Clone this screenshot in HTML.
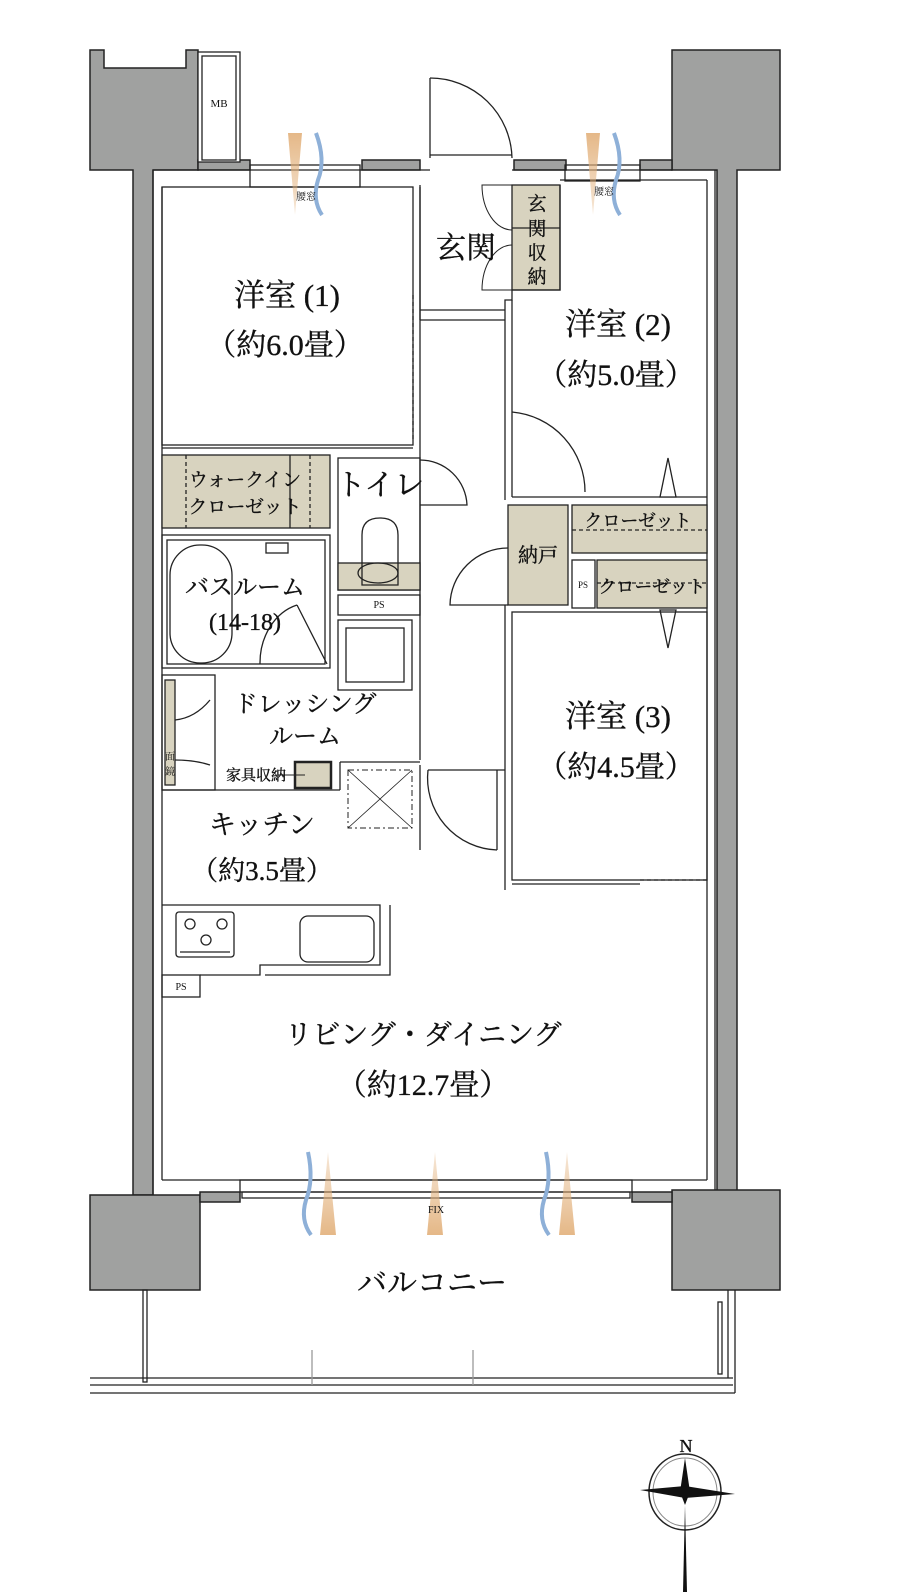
<!DOCTYPE html>
<html><head><meta charset="utf-8"><style>
html,body{margin:0;padding:0;background:#fff;}
svg{display:block;}
text{font-family:"Liberation Serif","Noto Serif CJK SC","Noto Serif CJK JP",serif;fill:#111;stroke:#111;stroke-width:0.35;}
</style></head><body>
<svg width="900" height="1596" viewBox="0 0 900 1596" xmlns="http://www.w3.org/2000/svg">
<defs>
<linearGradient id="o" x1="0" y1="0" x2="0" y2="1"><stop offset="0" stop-color="#e2b07a" stop-opacity=".9"/><stop offset="1" stop-color="#e2b07a" stop-opacity=".3"/></linearGradient>
<linearGradient id="ou" x1="0" y1="1" x2="0" y2="0"><stop offset="0" stop-color="#e2b07a" stop-opacity=".9"/><stop offset="1" stop-color="#e2b07a" stop-opacity=".3"/></linearGradient>
</defs>
<g stroke="#222" stroke-width="1.5">
<polygon fill="#a0a1a0" points="90,50 104,50 104,68 186,68 186,50 198,50 198,170 153,170 153,1195 133,1195 133,170 90,170"/>
<polygon fill="#a0a1a0" points="672,50 780,50 780,170 737,170 737,1195 717,1195 717,170 672,170"/>
<rect fill="#a0a1a0" x="90" y="1195" width="110" height="95"/>
<rect fill="#a0a1a0" x="672" y="1190" width="108" height="100"/>
<rect fill="#a0a1a0" x="198" y="160" width="52" height="10"/>
<rect fill="#a0a1a0" x="362" y="160" width="58" height="10"/>
<rect fill="#a0a1a0" x="514" y="160" width="52" height="10"/>
<rect fill="#a0a1a0" x="640" y="160" width="32" height="10"/>
<rect fill="#a0a1a0" x="200" y="1192" width="40" height="10"/>
<rect fill="#a0a1a0" x="632" y="1192" width="40" height="10"/>
</g>
<g fill="none" stroke="#222" stroke-width="1.3">
<rect x="198" y="52" width="42" height="110" fill="#fff"/>
<rect x="202" y="56" width="34" height="104"/>
<polyline points="153,170 430,170"/>
<polyline points="512,170 672,170"/>
<line x1="153" y1="170" x2="153" y2="1195"/>
<line x1="162" y1="187" x2="162" y2="1180"/>
<line x1="715" y1="170" x2="715" y2="1190"/>
<line x1="707" y1="180" x2="707" y2="1180"/>
<line x1="162" y1="1180" x2="707" y2="1180"/>
<rect x="250" y="165" width="110" height="22"/>
<rect x="565" y="165" width="75" height="16"/>
<rect x="162" y="187" width="251" height="258"/>
<line x1="420" y1="187" x2="420" y2="760"/>
<line x1="413" y1="295" x2="413" y2="440" stroke-dasharray="4,3"/>
<line x1="430" y1="78" x2="430" y2="158"/>
<path d="M430,78 A82,82 0 0 1 512,158"/>
<line x1="430" y1="155" x2="512" y2="155"/>
<line x1="420" y1="185" x2="420" y2="320"/>
<rect x="512" y="185" width="48" height="105" fill="#d8d3bf"/>
<line x1="512" y1="228" x2="560" y2="228"/>
<path d="M512,185 L482,185 A30,45 0 0 0 512,230 M512,290 L482,290 A30,45 0 0 1 512,245" stroke-width="1"/>
<polyline points="560,185 560,290 512,290 512,300 505,300 505,500"/>
<line x1="420" y1="320" x2="505" y2="320"/>
<line x1="420" y1="310" x2="505" y2="310"/>
<polyline points="560,180 707,180"/>
<line x1="512" y1="300" x2="512" y2="497"/>
<line x1="512" y1="497" x2="707" y2="497"/>
<path d="M512,412 A80,80 0 0 1 585,492"/>
<polygon points="668,458 660,497 676,497" fill="#fff"/>
<rect x="162" y="455" width="168" height="73" fill="#d8d3bf"/>
<line x1="186" y1="455" x2="186" y2="528" stroke-dasharray="4,3"/>
<line x1="310" y1="455" x2="310" y2="528" stroke-dasharray="4,3"/>
<line x1="290" y1="455" x2="290" y2="528"/>
<polyline points="162,448 413,448"/>
<rect x="338" y="458" width="82" height="132"/>
<rect x="338" y="563" width="82" height="27" fill="#d8d3bf"/>
<path d="M362,585 L362,535 Q362,518 380,518 Q398,518 398,535 L398,585 Z"/>
<ellipse cx="378" cy="573" rx="20" ry="10"/>
<path d="M420,460 A47,47 0 0 1 467,505 L420,505"/>
<rect x="338" y="595" width="82" height="20"/>
<rect x="162" y="535" width="168" height="133"/>
<rect x="167" y="540" width="158" height="124"/>
<rect x="170" y="545" width="62" height="118" rx="30"/>
<rect x="266" y="543" width="22" height="10"/>
<path d="M260,664 A50,60 0 0 1 297,605 M297,605 L327,664"/>
<rect x="338" y="620" width="74" height="70"/>
<rect x="346" y="628" width="58" height="54"/>
<rect x="162" y="675" width="53" height="115"/>
<rect x="165" y="680" width="10" height="105" fill="#d8d3bf"/>
<path d="M175,720 Q195,718 210,700 M175,760 Q195,760 210,765"/>
<line x1="162" y1="790" x2="340" y2="790"/>
<rect x="295" y="762" width="36" height="26" fill="#d8d3bf" stroke-width="2.5"/>
<line x1="278" y1="775" x2="305" y2="775" stroke-width="1"/>
<line x1="340" y1="762" x2="420" y2="762"/>
<line x1="340" y1="762" x2="340" y2="790"/>
<rect x="348" y="770" width="64" height="58" stroke-dasharray="6,3,2,3" stroke-width="1"/>
<path d="M348,770 L412,828 M412,770 L348,828" stroke-width=".8"/>
<line x1="420" y1="765" x2="420" y2="850"/>
<path d="M428,770 A72,72 0 0 0 497,850"/>
<line x1="497" y1="770" x2="497" y2="850"/>
<line x1="428" y1="770" x2="505" y2="770"/>
<rect x="508" y="505" width="60" height="100" fill="#d8d3bf"/>
<path d="M508,548 A58,58 0 0 0 450,605 L508,605"/>
<rect x="572" y="505" width="135" height="48" fill="#d8d3bf"/>
<line x1="572" y1="530" x2="707" y2="530" stroke-dasharray="4,3"/>
<rect x="572" y="560" width="23" height="48"/>
<rect x="597" y="560" width="110" height="48" fill="#d8d3bf"/>
<line x1="597" y1="583" x2="707" y2="583" stroke-dasharray="4,3"/>
<polygon points="668,648 660,610 676,610" fill="#fff"/>
<rect x="512" y="612" width="195" height="268"/>
<line x1="640" y1="880" x2="707" y2="880" stroke-dasharray="4,3"/>
<line x1="512" y1="884" x2="640" y2="884"/>
<line x1="505" y1="605" x2="505" y2="890"/>
<polyline points="162,905 380,905 380,965 260,965 260,975 200,975"/>
<polyline points="390,905 390,975 265,975"/>
<rect x="176" y="912" width="58" height="45" rx="3"/>
<line x1="180" y1="952" x2="230" y2="952"/>
<circle cx="190" cy="924" r="5"/><circle cx="222" cy="924" r="5"/><circle cx="206" cy="940" r="5"/>
<rect x="300" y="916" width="74" height="46" rx="8"/>
<rect x="162" y="975" width="38" height="22"/>
<rect x="240" y="1180" width="392" height="12"/>
<rect x="242" y="1192" width="388" height="6"/>
<line x1="90" y1="1378" x2="733" y2="1378"/>
<line x1="90" y1="1385" x2="733" y2="1385"/>
<line x1="90" y1="1393" x2="735" y2="1393"/>
<line x1="728" y1="1290" x2="728" y2="1378"/>
<line x1="735" y1="1290" x2="735" y2="1393"/>
<rect x="143" y="1290" width="4" height="92"/>
<rect x="718" y="1302" width="4" height="72"/>
<line x1="312" y1="1350" x2="312" y2="1385" stroke="#999"/>
<line x1="473" y1="1350" x2="473" y2="1385" stroke="#999"/>
</g>
<polygon points="288,133 302,133 295,215" fill="url(#o)"/>
<path d="M316,133 Q326,160 318,180 Q312,200 322,215" stroke="#8eb0d8" stroke-width="4" fill="none"/>
<polygon points="586,133 600,133 593,215" fill="url(#o)"/>
<path d="M614,133 Q624,160 616,180 Q610,200 620,215" stroke="#8eb0d8" stroke-width="4" fill="none"/>
<polygon points="320,1235 336,1235 328,1152" fill="url(#ou)"/>
<path d="M308,1152 Q314,1180 306,1200 Q300,1220 311,1235" stroke="#8eb0d8" stroke-width="4" fill="none"/>
<polygon points="427,1235 443,1235 435,1152" fill="url(#ou)"/>
<polygon points="559,1235 575,1235 567,1152" fill="url(#ou)"/>
<path d="M546,1152 Q552,1180 544,1200 Q538,1220 549,1235" stroke="#8eb0d8" stroke-width="4" fill="none"/>
<g stroke="#222" fill="none">
<ellipse cx="685" cy="1492" rx="36" ry="38" stroke-width="1.5"/>
<ellipse cx="685" cy="1492" rx="32" ry="34" stroke="#888"/>
</g>
<polygon points="685,1458 680,1492 685,1505 690,1492" fill="#111"/>
<polygon points="685,1505 683,1592 687,1592" fill="#111"/>
<polygon points="640,1490 685,1486 735,1494 685,1498" fill="#111"/>
<text x="686" y="1452" font-size="18" text-anchor="middle">N</text>
<g text-anchor="middle">
<text x="219" y="107" font-size="11" style="stroke:none">MB</text>
<text x="306" y="200" font-size="10" style="stroke:none">腰窓</text>
<text x="604" y="195" font-size="10" style="stroke:none">腰窓</text>
<text x="466" y="258" font-size="30">玄関</text>
<text x="537" y="210" font-size="19">玄</text>
<text x="537" y="235" font-size="19">関</text>
<text x="537" y="259" font-size="19">収</text>
<text x="537" y="283" font-size="19">納</text>
<text x="287" y="306" font-size="31">洋室 (1)</text>
<text x="285" y="355" font-size="30">（約6.0畳）</text>
<text x="618" y="335" font-size="31">洋室 (2)</text>
<text x="616" y="385" font-size="30">（約5.0畳）</text>
<text x="245" y="486" font-size="19">ウォークイン</text>
<text x="245" y="513" font-size="19">クローゼット</text>
<text x="380" y="495" font-size="30">トイレ</text>
<text x="245" y="595" font-size="24">バスルーム</text>
<text x="245" y="630" font-size="24">(14-18)</text>
<text x="379" y="608" font-size="10" style="stroke:none">PS</text>
<text x="305" y="712" font-size="24">ドレッシング</text>
<text x="305" y="744" font-size="24">ルーム</text>
<text x="256" y="780" font-size="15">家具収納</text>
<text x="170" y="760" font-size="10" style="stroke:none">面</text>
<text x="170" y="775" font-size="10" style="stroke:none">鏡</text>
<text x="262" y="834" font-size="27">キッチン</text>
<text x="262" y="880" font-size="27">（約3.5畳）</text>
<text x="538" y="562" font-size="20">納戸</text>
<text x="638" y="527" font-size="18">クローゼット</text>
<text x="652" y="593" font-size="18">クローゼット</text>
<text x="583" y="588" font-size="9" style="stroke:none">PS</text>
<text x="618" y="727" font-size="31">洋室 (3)</text>
<text x="616" y="777" font-size="30">（約4.5畳）</text>
<text x="181" y="990" font-size="10" style="stroke:none">PS</text>
<text x="423" y="1044" font-size="28">リビング・ダイニング</text>
<text x="423" y="1095" font-size="30">（約12.7畳）</text>
<text x="436" y="1213" font-size="10" style="stroke:none">FIX</text>
<text x="432" y="1293" font-size="30">バルコニー</text>
</g>
</svg>
</body></html>
